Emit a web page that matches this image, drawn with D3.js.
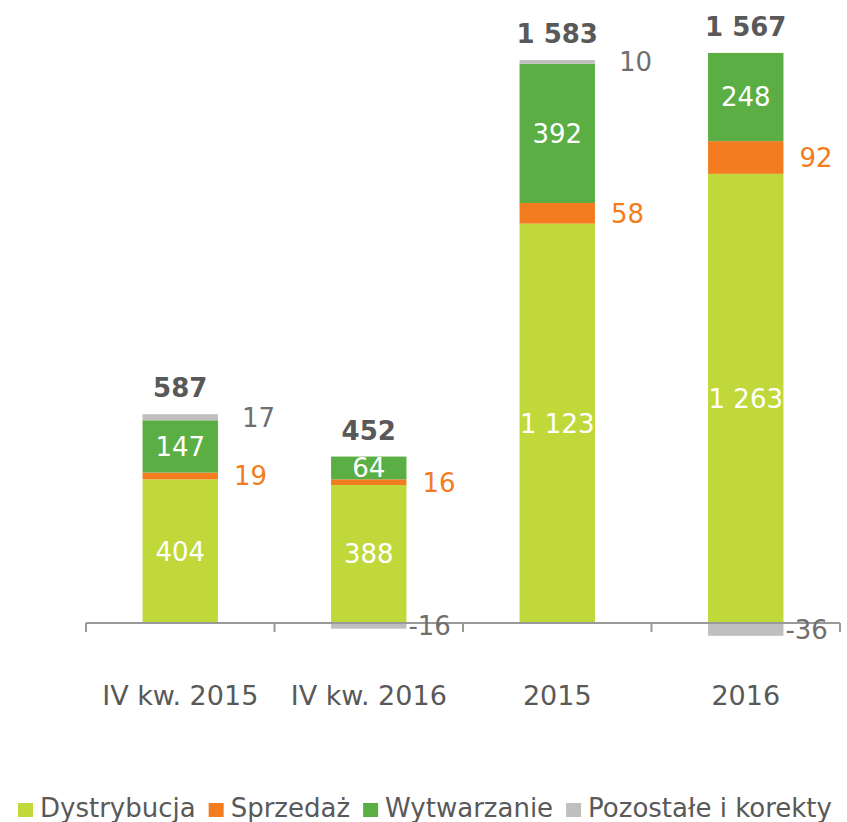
<!DOCTYPE html>
<html>
<head>
<meta charset="utf-8">
<script src="https://cdn.jsdelivr.net/npm/d3@7"></script>
<style>
  body { margin: 0; background: #fff; }
  svg { font-family: "DejaVu Sans", Verdana, sans-serif; }
</style>
</head>
<body>
<div id="chart"></div>
<script>
// data
var categories = ["IV kw. 2015", "IV kw. 2016", "2015", "2016"];
var seriesNames = ["Dystrybucja", "Sprzedaż", "Wytwarzanie", "Pozostałe i korekty"];
var dystrybucja = [404, 388, 1123, 1263];
var sprzedaz = [19, 16, 58, 92];
var wytwarzanie = [147, 64, 392, 248];
var pozostale = [17, -16, 10, -36];
var colors = ["#c0d83a", "#f47c20", "#5aae44", "#bfbfbf"];

var width = 847,
  height = 822;

var svg = d3
  .select("#chart")
  .append("svg")
  .attr("width", width)
  .attr("height", height);

var locale = d3.formatLocale({ decimal: ",", thousands: " ", grouping: [3], currency: ["", " zł"], minus: "-" });
var fmt = locale.format(",d");

var x = d3
  .scaleBand()
  .domain(categories)
  .range([86, 840])
  .paddingInner(0.6)
  .paddingOuter(0.3);

var y = d3.scaleLinear().domain([0, 1600]).range([623, 54]);

var rows = categories.map(function(c, i) {
  return {
    cat: c,
    vals: [dystrybucja[i], sprzedaz[i], wytwarzanie[i], pozostale[i]]
  };
});

// positives stack up, negatives stack down from zero
var segs = [];
rows.forEach(function(r) {
  var pos = 0,
    neg = 0;
  r.vals.forEach(function(v, k) {
    var s = { cat: r.cat, k: k, v: v };
    if (v >= 0) {
      s.y0 = pos;
      s.y1 = pos + v;
      pos += v;
    } else {
      s.y0 = neg + v;
      s.y1 = neg;
      neg += v;
    }
    segs.push(s);
  });
  r.top = pos;
  r.total = d3.sum(r.vals);
});

svg
  .selectAll("rect.seg")
  .data(segs)
  .enter()
  .append("rect")
  .attr("class", "seg")
  .attr("x", function(d) { return x(d.cat); })
  .attr("y", function(d) { return y(d.y1); })
  .attr("width", x.bandwidth())
  .attr("height", function(d) { return y(d.y0) - y(d.y1); })
  .attr("fill", function(d) { return colors[d.k]; });

// axis line + ticks between categories
var axisY = y(0);
svg
  .append("line")
  .attr("x1", x.range()[0])
  .attr("x2", x.range()[1])
  .attr("y1", axisY)
  .attr("y2", axisY)
  .attr("stroke", "#999")
  .attr("stroke-width", 2);

var tickX = d3.range(categories.length + 1).map(function(i) {
  return x.range()[0] + i * x.step();
});
svg
  .selectAll("line.tick")
  .data(tickX)
  .enter()
  .append("line")
  .attr("class", "tick")
  .attr("x1", function(d) { return d; })
  .attr("x2", function(d) { return d; })
  .attr("y1", axisY)
  .attr("y2", axisY + 9)
  .attr("stroke", "#999")
  .attr("stroke-width", 2);

// category labels
svg
  .selectAll("text.cat")
  .data(categories)
  .enter()
  .append("text")
  .attr("class", "cat")
  .attr("x", function(d) { return x(d) + x.bandwidth() / 2; })
  .attr("y", 705)
  .attr("text-anchor", "middle")
  .attr("font-size", 27)
  .attr("fill", "#595959")
  .text(function(d) { return d; });

// segment labels
svg
  .selectAll("text.val")
  .data(segs)
  .enter()
  .append("text")
  .attr("class", "val")
  .attr("x", function(d) {
    if (d.k == 0 || d.k == 2) return x(d.cat) + x.bandwidth() / 2;
    if (d.k == 1) return x(d.cat) + x.bandwidth() + 16;
    return x(d.cat) + x.bandwidth() + (d.v < 0 ? 2 : 24);
  })
  .attr("y", function(d) { return (y(d.y0) + y(d.y1)) / 2; })
  .attr("dy", "0.36em")
  .attr("text-anchor", function(d) { return d.k == 0 || d.k == 2 ? "middle" : "start"; })
  .attr("font-size", 26)
  .attr("fill", function(d) {
    if (d.k == 0 || d.k == 2) return "#fff";
    if (d.k == 1) return "#f47c20";
    return "#6f6f6f";
  })
  .text(function(d) { return fmt(d.v); });

// totals
svg
  .selectAll("text.total")
  .data(rows)
  .enter()
  .append("text")
  .attr("class", "total")
  .attr("x", function(d) { return x(d.cat) + x.bandwidth() / 2; })
  .attr("y", function(d) { return y(d.top) - 17; })
  .attr("text-anchor", "middle")
  .attr("font-size", 26)
  .attr("font-weight", "bold")
  .attr("fill", "#595959")
  .text(function(d) { return fmt(d.total); });

// legend
var legend = svg.append("g").attr("transform", "translate(18,817)");
var lx = 0;
seriesNames.forEach(function(name, i) {
  legend
    .append("rect")
    .attr("x", lx)
    .attr("y", -14)
    .attr("width", 15)
    .attr("height", 14)
    .attr("fill", colors[i]);
  var t = legend
    .append("text")
    .attr("x", lx + 22)
    .attr("y", 0)
    .attr("font-size", 26)
    .attr("fill", "#595959")
    .text(name);
  lx += 22 + t.node().getComputedTextLength() + 13;
});
</script>
</body>
</html>
